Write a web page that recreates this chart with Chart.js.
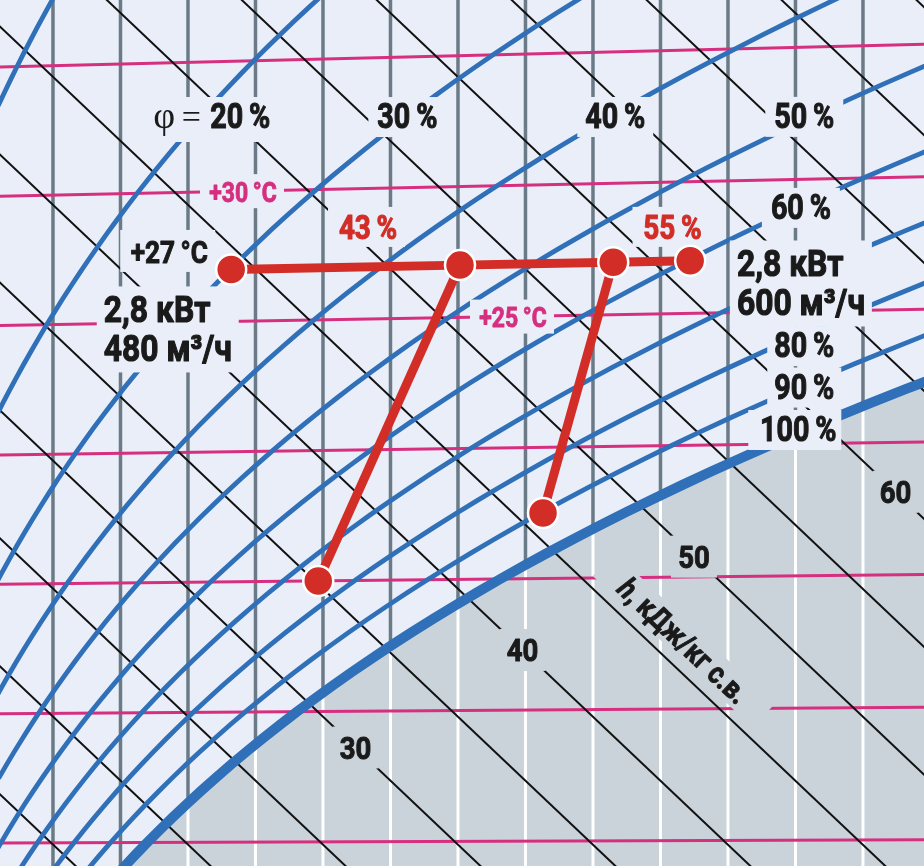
<!DOCTYPE html>
<html>
<head>
<meta charset="utf-8">
<script src="https://cdn.jsdelivr.net/npm/chart.js@4.4.1/dist/chart.umd.min.js"></script>
<style>
  html, body { margin: 0; padding: 0; background: #e9eef8; }
  #chart { display: block; }
</style>
</head>
<body>
<canvas id="chart" width="924" height="866"></canvas>
<script>
// ─── DATA: i-d diagram grid ───────────────────────────────
const moistureLines = [4, 5, 6, 7, 8, 9, 10, 11, 12, 13, 14, 15, 16];             // d, г/кг
const isotherms     = [5, 10, 15, 20, 25, 30, 35];                                 // t, °C
const enthalpyLines = [15, 20, 25, 30, 35, 40, 45, 50, 55, 60, 65, 70, 75, 80];    // h, кДж/кг
const rhCurves      = [10, 20, 30, 40, 50, 60, 70, 80, 90];                        // φ, %

// ─── DATA: process points (d, t) ──────────────────────────
const pointD = [6.64, 10.03, 12.30, 13.44, 7.93, 11.26];
const pointT = [27, 27, 27, 27, 15, 17.5];
const paths  = [[0, 1, 2, 3], [1, 4], [2, 5]];

// ─── DATA: texts ──────────────────────────────────────────
const rhLabelText  = ['20\u2009%', '30\u2009%', '40\u2009%', '50\u2009%', '60\u2009%', '80\u2009%', '90\u2009%', '100\u2009%'];
const isoLabelText = ['+30\u2009°C', '+25\u2009°C'];
const isoLabelT    = [30, 25];
const hLabelText   = ['30', '40', '50', '60'];
const hLabelValue  = [30, 40, 50, 60];
const pointLabels  = ['+27\u2009°C', '43\u2009%', '55\u2009%'];
const flowLabels   = [['2,8 кВт', '480 м³/ч'], ['2,8 кВт', '600 м³/ч']];
const hTitle       = ', кДж/кг с.в.';

// ─── LAYOUT (anchors in d / t, sizes in px) ───────────────
const RH_POS    = [[6.33, 32.78], [9.25, 32.70], [12.33, 32.52], [15.13, 32.36], [15.08, 28.92], [15.13, 23.69], [15.13, 22.12], [14.99, 20.52]];
const RH_BOX    = [[130, 45], [78, 40], [76, 40], [78, 40], [78, 40], [74, 40], [74, 40], [93, 40]];
const ISO_POS_D = [6.80, 10.80];
const PT_POS    = [[5.70, 27.76], [8.645, 28.53], [13.156, 28.30]];
const FLOW_POS  = [[5.70, 24.74], [15.08, 26.06]];
const HL_POS_D  = [8.482, 10.956, 13.496, 16.482];

const BG    = '#e9eef8';
const GREY  = '#cad3da';
const VLINE = '#6a7b87';
const PINK  = '#d62f7f';
const BLUE  = '#3070b8';
const BLACK = '#111111';
const RED   = '#d22d26';
const INK   = '#1a1a1a';
const FONT  = 'Roboto, "DejaVu Sans", sans-serif';

const X_MIN = 3.215, X_MAX = 16.904, Y_MIN = 4.156, Y_MAX = 38.0;

// ─── psychrometrics (chart y = h − 2.501·d) ───────────────
const P_ATM = 101.325;
const pSat  = t => 0.61094 * Math.exp(17.625 * t / (t + 243.04));
const tDew  = p => { const L = Math.log(p / 0.61094); return 243.04 * L / (17.625 - L); };
const dOf   = (phi, t) => { const pv = phi / 100 * pSat(t); return 622 * pv / (P_ATM - pv); };
const yOf   = (t, d) => t * (1.005 + 0.00186 * d);
const yOfH  = (h, d) => h - 2.501 * d;

const tSteps = [];
for (let t = -10; t <= 46; t += 0.5) tSteps.push(t);

const rhData = phi => tSteps.map(t => { const d = dOf(phi, t); return { x: d, y: yOf(t, d) }; });

const ds = (data, color, width, order, extra = {}) => Object.assign({
  data, borderColor: color, borderWidth: width, order,
  showLine: true, pointRadius: 0, pointHoverRadius: 0, fill: false,
}, extra);

const datasets = [];

// gray region under saturation
datasets.push(ds(rhData(100), 'rgba(0,0,0,0)', 0, 100, { fill: 'start', backgroundColor: GREY }));

// d = const: grey above saturation, white below
moistureLines.forEach(d => {
  const ys = yOf(tDew(d * P_ATM / (622 + d)), d);
  datasets.push(ds([{ x: d, y: ys }, { x: d, y: Y_MAX + 2 }], VLINE, 3.5, 90));
  datasets.push(ds([{ x: d, y: Y_MIN - 2 }, { x: d, y: ys }], '#ffffff', 3, 90));
});

// t = const
isotherms.forEach(t => {
  const a = X_MIN - 1, b = X_MAX + 1;
  datasets.push(ds([{ x: a, y: yOf(t, a) }, { x: b, y: yOf(t, b) }], PINK, 3, 80));
});

// h = const
enthalpyLines.forEach(h => {
  const a = X_MIN - 2, b = X_MAX + 2;
  datasets.push(ds([{ x: a, y: yOfH(h, a) }, { x: b, y: yOfH(h, b) }], BLACK, 2, 70));
});

// φ = const
rhCurves.forEach(phi => datasets.push(ds(rhData(phi), BLUE, 4.8, 60)));

// φ = 100 %
const satIndex = datasets.length;
datasets.push(ds(rhData(100), BLUE, 10, 50));

// process lines and points
paths.forEach(p => {
  datasets.push(ds(p.map(k => ({ x: pointD[k], y: yOf(pointT[k], pointD[k]) })), RED, 9, 20));
});
datasets.push({
  data: pointD.map((d, k) => ({ x: d, y: yOf(pointT[k], d) })),
  showLine: false, order: 10,
  pointRadius: 15, pointHoverRadius: 15,
  pointBackgroundColor: RED, pointBorderColor: '#ffffff', pointBorderWidth: 2.5,
});

// ─── text helpers ─────────────────────────────────────────
function text(ctx, str, x, y, size, color, align = 'center', squeeze = 0.82, style = 'bold', family = FONT) {
  ctx.save();
  ctx.translate(x, y);
  ctx.scale(squeeze, 1);
  ctx.font = `${style} ${size}px ${family}`;
  ctx.fillStyle = color;
  ctx.textAlign = align;
  ctx.textBaseline = 'alphabetic';
  ctx.fillText(str, 0, 0);
  if (style.includes('bold')) {           // a bit heavier, closer to the condensed black face
    ctx.strokeStyle = color;
    ctx.lineWidth = size / 32;
    ctx.lineJoin = 'round';
    ctx.strokeText(str, 0, 0);
  }
  ctx.restore();
}
function box(ctx, cx, cy, w, h, color) {
  ctx.fillStyle = color;
  ctx.fillRect(cx - w / 2, cy - h / 2, w, h);
}

const labelsPlugin = {
  id: 'idLabels',
  beforeDraw(chart) {
    const { ctx, width, height } = chart;
    ctx.save();
    ctx.fillStyle = BG;
    ctx.fillRect(0, 0, width, height);
    ctx.restore();
  },
  afterDatasetDraw(chart, args) {
    if (args.index !== satIndex) return;
    const { ctx, scales: { x, y } } = chart;
    const at = (d, t) => [x.getPixelForValue(d), y.getPixelForValue(yOf(t, d))];
    ctx.save();

    // relative humidity labels
    rhLabelText.forEach((s, k) => {
      const [cx, cy] = at(RH_POS[k][0], RH_POS[k][1]);
      box(ctx, cx, cy, RH_BOX[k][0], RH_BOX[k][1], BG);
      if (k === 0) {
        text(ctx, 'φ', cx - 46, cy + 8.5, 38, INK, 'center', 1, 'normal', '"Liberation Serif", serif');
        text(ctx, '=', cx - 19, cy + 8.5, 34, INK, 'center', 1, 'normal', '"Liberation Serif", serif');
        text(ctx, s, cx, cy + 8.5, 35, INK, 'left');
      } else {
        text(ctx, s, cx + (k === 7 ? 3.5 : 0), cy + 11, 35, INK);
      }
    });

    // isotherm labels
    isoLabelText.forEach((s, k) => {
      const [cx, cy] = at(ISO_POS_D[k], isoLabelT[k]);
      box(ctx, cx, cy, 84, 34, BG);
      text(ctx, s, cx + 1, cy + 10.5, 28, PINK);
    });

    // point labels
    pointLabels.forEach((s, k) => {
      const [cx, cy] = at(PT_POS[k][0], PT_POS[k][1]);
      box(ctx, cx, cy, k === 0 ? 95 : 77, k === 0 ? 42 : 40, BG);
      text(ctx, s, cx + 1.5, cy + 12, k === 0 ? 32 : 34, k === 0 ? INK : RED);
    });

    // power / flow labels
    flowLabels.forEach((lines, k) => {
      const [cx, cy] = at(FLOW_POS[k][0], FLOW_POS[k][1]);
      box(ctx, cx, cy, 142, 86, BG);
      text(ctx, lines[0], cx - 64, cy - 7, 37, INK, 'left', 0.86);
      text(ctx, lines[1], cx - 64, cy + 32, 37, INK, 'left', 0.86);
    });

    // enthalpy labels
    hLabelText.forEach((s, k) => {
      const d = HL_POS_D[k];
      const cx = x.getPixelForValue(d), cy = y.getPixelForValue(yOfH(hLabelValue[k], d));
      box(ctx, cx, cy, 46, 42, GREY);
      text(ctx, s, cx, cy + 11.5, 32, INK, 'center', 0.86);
    });

    // h axis title along an enthalpy line
    const hd = 13.333, hh = 46.3;
    const x1 = x.getPixelForValue(12), y1 = y.getPixelForValue(yOfH(hh, 12));
    const x2 = x.getPixelForValue(14), y2 = y.getPixelForValue(yOfH(hh, 14));
    const cx = x.getPixelForValue(hd), cy = y.getPixelForValue(yOfH(hh, hd));
    ctx.translate(cx, cy);
    ctx.rotate(Math.atan2(y2 - y1, x2 - x1));
    ctx.fillStyle = GREY;
    ctx.fillRect(-110, -17, 220, 32);
    ctx.font = `italic bold 30px ${FONT}`;
    const wH = ctx.measureText('h').width * 0.86;
    ctx.font = `bold 30px ${FONT}`;
    const wT = ctx.measureText(hTitle).width * 0.86;
    const x0 = -(wH + wT) / 2;
    text(ctx, 'h', x0, 10, 30, INK, 'left', 0.86, 'italic bold');
    text(ctx, hTitle, x0 + wH, 10, 30, INK, 'left', 0.86);
    ctx.restore();
  },
};

function draw() {
  new Chart(document.getElementById('chart'), {
    type: 'scatter',
    data: { datasets },
    options: {
      responsive: false,
      animation: false,
      events: [],
      layout: { padding: 0, autoPadding: false },
      scales: {
        x: { type: 'linear', min: X_MIN, max: X_MAX, display: false },
        y: { type: 'linear', min: Y_MIN, max: Y_MAX, display: false },
      },
      plugins: { legend: { display: false }, tooltip: { enabled: false } },
      elements: { line: { tension: 0 } },
    },
    plugins: [labelsPlugin],
  });
}

Promise.all([
  document.fonts.load(`bold 35px Roboto`),
  document.fonts.load(`italic bold 30px Roboto`),
  document.fonts.load(`38px "Liberation Serif"`),
]).catch(() => {}).then(draw);
</script>
</body>
</html>
